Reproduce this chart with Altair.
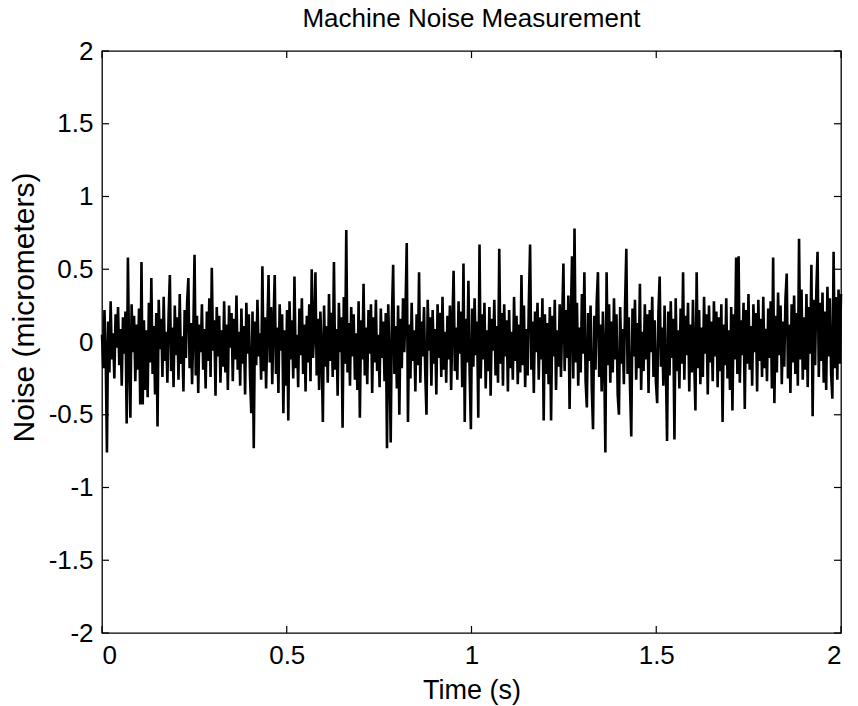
import altair as alt
import pandas as pd

title_text = "Machine Noise Measurement"
x_label = "Time (s)"
y_label = "Noise (micrometers)"
duration_s = 2.0
x_ticks = [0, 0.5, 1, 1.5, 2]
y_ticks = [-2, -1.5, -1, -0.5, 0, 0.5, 1, 1.5, 2]

# noise samples (micrometers)
noise_um = [
    0.05, -0.18, 0.22, -0.09, -0.76, 0.14, -0.21, 0.28, -0.12, 0.06, -0.25, 0.19, -0.04, 0.24, -0.16, 0.09, -0.30, 0.17, -0.08, 0.21,
    -0.56, 0.58, -0.11, -0.52, 0.26, -0.07, 0.18, -0.27, 0.12, -0.19, 0.23, -0.43, 0.55, -0.43, 0.15, -0.33, 0.08, -0.38, 0.27, -0.14,
    0.44, -0.22, 0.11, -0.36, 0.20, -0.58, 0.29, -0.05, 0.16, -0.24, 0.31, -0.13, 0.07, -0.28, 0.19, 0.46, -0.20, 0.10, -0.31, 0.25,
    -0.09, 0.17, -0.26, 0.33, -0.15, 0.04, -0.34, 0.22, -0.11, 0.27, 0.44, -0.18, 0.13, -0.29, 0.06, 0.60, -0.23, 0.18, -0.35, 0.12,
    -0.07, 0.26, -0.19, 0.09, -0.32, 0.21, -0.13, 0.30, -0.24, 0.51, -0.06, 0.15, -0.37, 0.24, -0.10, 0.18, -0.28, 0.08, -0.17, 0.28,
    -0.21, 0.12, -0.33, 0.25, -0.04, 0.20, -0.27, 0.16, -0.12, 0.32, -0.19, 0.07, -0.30, 0.23, -0.15, 0.11, -0.36, 0.27, -0.08, 0.19,
    -0.24, -0.49, 0.21, -0.73, 0.14, -0.16, 0.29, -0.10, 0.06, -0.26, 0.52, -0.20, 0.17, -0.32, 0.09, 0.46, -0.14, 0.24, -0.29, 0.13,
    0.46, -0.22, 0.10, -0.35, 0.26, -0.06, 0.19, -0.49, 0.08, -0.30, 0.22, -0.54, 0.28, -0.12, 0.15, -0.25, 0.45, -0.18, 0.05, -0.31,
    0.23, -0.09, 0.30, -0.22, 0.12, -0.34, 0.18, -0.14, 0.26, -0.27, 0.50, -0.11, 0.07, 0.48, -0.23, 0.16, -0.33, 0.21, -0.05, -0.55,
    0.25, -0.17, 0.11, -0.28, 0.33, -0.13, 0.20, -0.24, 0.55, -0.19, 0.09, -0.37, 0.27, -0.07, 0.17, -0.59, 0.31, -0.15, 0.77, -0.21,
    0.13, -0.30, 0.24, -0.10, 0.19, -0.26, 0.06, -0.33, 0.28, -0.52, 0.15, -0.12, 0.40, -0.23, 0.10, -0.29, 0.22, -0.08, 0.26, -0.35,
    0.17, -0.14, 0.29, -0.20, 0.05, -0.31, 0.23, -0.11, 0.14, -0.27, 0.20, -0.73, 0.26, -0.09, -0.69, 0.18, 0.53, -0.22, 0.11, -0.32,
    0.25, -0.50, 0.16, -0.18, 0.30, -0.07, 0.21, 0.68, -0.55, 0.12, -0.25, 0.27, -0.13, 0.08, -0.34, 0.19, -0.16, 0.48, -0.28, 0.14,
    -0.10, 0.24, -0.21, -0.50, 0.29, -0.06, 0.17, -0.30, 0.22, -0.15, 0.09, -0.36, 0.26, -0.11, 0.20, -0.24, 0.31, -0.19, 0.07, -0.28,
    0.18, -0.12, 0.25, -0.33, 0.13, 0.49, -0.20, 0.10, -0.26, 0.28, -0.08, 0.21, -0.31, 0.54, -0.55, 0.16, -0.14, 0.42, -0.22, -0.60,
    0.23, -0.17, 0.30, -0.09, 0.14, -0.52, 0.67, -0.25, 0.19, -0.12, 0.27, -0.32, 0.08, -0.20, 0.24, -0.37, 0.16, -0.06, 0.29, -0.23,
    0.11, -0.28, 0.64, -0.15, 0.20, -0.30, 0.26, -0.10, 0.15, -0.34, 0.22, -0.18, 0.07, -0.26, 0.31, -0.13, 0.18, -0.29, 0.12, -0.21,
    0.46, -0.16, 0.25, -0.31, 0.09, -0.23, 0.28, 0.67, -0.19, 0.14, -0.35, 0.21, -0.07, 0.27, -0.26, 0.17, -0.12, 0.30, -0.54, 0.19,
    -0.22, 0.13, -0.29, 0.24, -0.54, 0.18, -0.10, 0.29, -0.33, 0.08, -0.17, 0.26, -0.24, 0.15, 0.54, -0.20, 0.22, -0.11, 0.32, -0.46,
    0.16, 0.59, -0.25, 0.78, -0.14, 0.27, -0.30, 0.10, -0.21, 0.33, -0.08, 0.48, -0.27, -0.45, 0.20, -0.13, 0.25, -0.32, -0.60, 0.18,
    -0.19, 0.28, 0.48, -0.24, 0.12, -0.34, 0.21, -0.09, -0.76, 0.48, -0.16, 0.26, -0.28, 0.14, -0.21, 0.30, -0.12, 0.19, -0.36, -0.50,
    0.24, -0.15, 0.09, -0.29, 0.27, 0.64, -0.22, 0.17, -0.31, -0.65, 0.23, -0.10, 0.29, -0.26, 0.13, -0.18, 0.40, -0.33, 0.07, -0.20,
    0.26, -0.12, 0.19, -0.35, 0.22, -0.07, 0.31, -0.24, 0.15, -0.28, -0.42, 0.20, 0.45, -0.17, 0.10, -0.30, 0.25, -0.14, -0.68, 0.21,
    -0.23, 0.28, -0.11, 0.16, -0.67, 0.30, -0.20, 0.08, -0.32, 0.23, -0.15, 0.48, -0.26, 0.18, -0.09, 0.27, -0.34, 0.12, -0.21, 0.29,
    -0.13, -0.47, 0.48, -0.18, 0.22, -0.29, 0.10, -0.24, 0.31, -0.08, 0.19, -0.36, 0.25, -0.14, 0.14, -0.27, 0.28, -0.10, 0.21, -0.31,
    0.17, -0.20, 0.26, -0.55, 0.12, -0.16, 0.30, -0.25, 0.08, -0.33, 0.24, -0.47, 0.19, -0.12, 0.58, -0.22, 0.59, -0.28, 0.15, -0.09,
    0.27, -0.46, 0.22, -0.15, 0.33, -0.19, 0.11, -0.30, 0.26, -0.07, 0.20, -0.34, 0.29, -0.13, 0.16, -0.24, 0.31, -0.18, 0.09, -0.27,
    0.23, -0.11, 0.28, -0.32, 0.58, -0.42, 0.18, -0.21, 0.34, -0.09, 0.25, -0.29, 0.14, -0.17, 0.30, 0.47, -0.25, 0.12, -0.35, 0.26,
    -0.14, 0.32, -0.22, 0.20, -0.30, 0.71, -0.12, 0.36, -0.26, 0.17, -0.19, 0.33, -0.31, 0.24, -0.08, 0.53, -0.51, 0.29, -0.16, 0.35,
    0.62, -0.24, 0.27, -0.13, 0.34, -0.28, 0.21, -0.33, 0.38, -0.10, 0.30, -0.22, -0.39, 0.62, -0.18, 0.31, -0.26, 0.36, -0.15, 0.33,
]

n = len(noise_um)
time_s = [duration_s * i / (n - 1) for i in range(n)]
df = pd.DataFrame({"t": time_s, "v": noise_um})
xt = pd.DataFrame({"t": x_ticks})
yt = pd.DataFrame({"v": y_ticks})

W, H = 739, 582
TICK = 7
FONT = "Liberation Sans"

xs = alt.Scale(domain=[0, 2], nice=False, zero=False)
ys = alt.Scale(domain=[-2, 2], nice=False, zero=False)

x_axis = alt.Axis(
    values=x_ticks, labelExpr="datum.value", tickSize=0, domain=False, grid=False,
    labelFontSize=26, labelFont=FONT, labelColor="black", labelPadding=9,
    title=x_label, titleFontSize=27, titleFont=FONT, titleFontWeight="normal",
    titleColor="black", titleX=W / 2, titleY=57, titleBaseline="middle", titleAlign="center",
)
y_axis = alt.Axis(
    values=y_ticks, labelExpr="datum.value", tickSize=0, domain=False, grid=False,
    labelFontSize=26, labelFont=FONT, labelColor="black", labelPadding=9,
    title=y_label, titleFontSize=30, titleFont=FONT, titleFontWeight="normal",
    titleColor="black", titleX=-78, titleY=256, titleAngle=-90,
    titleBaseline="middle", titleAlign="center",
)

line = alt.Chart(df).mark_line(color="black", strokeWidth=2.6, strokeJoin="miter", strokeMiterLimit=2).encode(
    x=alt.X("t:Q", scale=xs, axis=x_axis),
    y=alt.Y("v:Q", scale=ys, axis=y_axis),
)

tick_top = alt.Chart(xt).mark_rule(color="black", strokeWidth=1.2).encode(
    x=alt.X("t:Q", scale=xs), y=alt.value(0), y2=alt.value(TICK)
)
tick_bottom = alt.Chart(xt).mark_rule(color="black", strokeWidth=1.2).encode(
    x=alt.X("t:Q", scale=xs), y=alt.value(H - TICK), y2=alt.value(H)
)
tick_left = alt.Chart(yt).mark_rule(color="black", strokeWidth=1.2).encode(
    y=alt.Y("v:Q", scale=ys), x=alt.value(0), x2=alt.value(TICK)
)
tick_right = alt.Chart(yt).mark_rule(color="black", strokeWidth=1.2).encode(
    y=alt.Y("v:Q", scale=ys), x=alt.value(W - TICK), x2=alt.value(W)
)

chart = (
    alt.layer(line, tick_top, tick_bottom, tick_left, tick_right)
    .properties(
        width=W,
        height=H,
        title=alt.TitleParams(
            title_text, fontSize=26, font=FONT, fontWeight="normal",
            color="black", anchor="middle", offset=6,
        ),
        autosize=alt.AutoSizeParams(type="none"),
        padding={"left": 102, "top": 51, "right": 17, "bottom": 73},
    )
    .configure(background="white")
    .configure_view(stroke="black", strokeWidth=1.3)
)

chart.save("out.html", embed_options={"renderer": "svg", "actions": False})
